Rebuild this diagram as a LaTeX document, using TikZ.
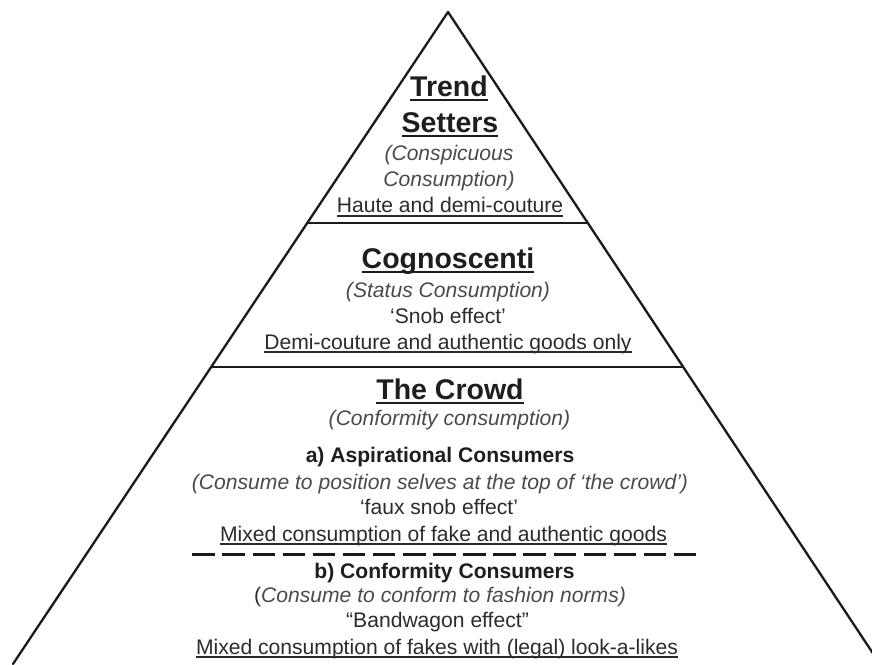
\documentclass[tikz,border=0pt]{standalone}
\usepackage{fontspec}
\setmainfont{Liberation Sans}
\usetikzlibrary{calc}

\definecolor{pyline}{HTML}{1A1A1A}
\definecolor{pyhead}{HTML}{1E1E1E}
\definecolor{pytext}{HTML}{2B2B2B}
\definecolor{pyital}{HTML}{4A4A4A}

% underline set just below the baseline, crossing descenders
\newcommand{\ulx}[1]{\setbox0\hbox{#1}\rlap{\rule[-0.19em]{\wd0}{0.085em}}\box0}

\tikzset{
  txt/.style={anchor=base, inner sep=0pt, outer sep=0pt},
  headtxt/.style={txt, text=pyhead, font=\fontsize{28.5}{32}\selectfont\bfseries},
  subtxt/.style={txt, text=pyhead, font=\fontsize{21.1}{25}\selectfont\bfseries},
  bodytxt/.style={txt, text=pytext, font=\fontsize{21.1}{25}\selectfont},
  italtxt/.style={txt, text=pyital, font=\fontsize{21.1}{25}\selectfont\itshape},
  edge/.style={draw=pyline, line width=2.3pt, line cap=round, line join=round},
  tierline/.style={draw=pyline, line width=2.3pt},
  splitline/.style={draw=pyline, line width=3pt, dash pattern=on 22.5pt off 7.6pt},
}

\begin{document}
\begin{tikzpicture}[x=1pt, y=-1pt]
\useasboundingbox (0,0) rectangle (872,664);

% pyramid outline
\coordinate (apex) at (448,12);
\coordinate (bl) at (13,664);
\coordinate (br) at (880,664);
\begin{scope}
  \clip (0,0) rectangle (872,664);
  \draw[edge] (bl) -- (apex) -- (br);
\end{scope}

% tier boundaries
\coordinate (t1l) at ($(apex)!0.3236!(bl)$);
\coordinate (t1r) at ($(apex)!0.3236!(br)$);
\coordinate (t2l) at ($(apex)!0.5445!(bl)$);
\coordinate (t2r) at ($(apex)!0.5445!(br)$);
\draw[tierline] (t1l) -- (t1r);
\draw[tierline] (t2l) -- (t2r);

% top tier
\node[headtxt] (trend)   at (449,96)    {\ulx{Trend}};
\node[headtxt] (setters) at (450,132)   {\ulx{Setters}};
\node[italtxt] (consp1)  at (449,160)   {(Conspicuous};
\node[italtxt] (consp2)  at (449,186)   {Consumption)};
\node[bodytxt] (haute)   at (450,212.5) {\ulx{Haute and demi-couture}};

% middle tier
\node[headtxt] (cogno)  at (448,268)   {\ulx{Cognoscenti}};
\node[italtxt] (status) at (448,297.5) {(Status Consumption)};
\node[bodytxt] (snob)   at (448,323.5) {‘Snob effect’};
\node[bodytxt] (demi)   at (448,349)   {\ulx{Demi-couture and authentic goods only}};

% bottom tier
\node[headtxt] (crowd)  at (450,399)   {\ulx{The Crowd}};
\node[italtxt] (conf)   at (449.5,425.5) {(Conformity consumption)};
\node[subtxt]  (asp)    at (440,462.7) {a) Aspirational Consumers};
\node[italtxt] (aspwhy) at (440,489.3) {(Consume to position selves at the top of ‘the crowd’)};
\node[bodytxt] (faux)   at (439,514.5) {‘faux snob effect’};
\node[bodytxt] (mixa)   at (443.5,541) {\ulx{Mixed consumption of fake and authentic goods}};

\coordinate (dl) at (192.3,554.7);
\coordinate (dr) at (696.7,554.7);
\draw[splitline] (dl) -- (dr);

\node[subtxt]  (bconf) at (444.5,578) {b) Conformity Consumers};
\node[bodytxt] (bwhy)  at (440,602)   {(\textcolor{pyital}{\itshape Consume to conform to fashion norms)}};
\node[bodytxt] (band)  at (437.5,627.5) {“Bandwagon effect”};
\node[bodytxt] (mixb)  at (437,654)   {\ulx{Mixed consumption of fakes with (legal) look-a-likes}};
\end{tikzpicture}
\end{document}
